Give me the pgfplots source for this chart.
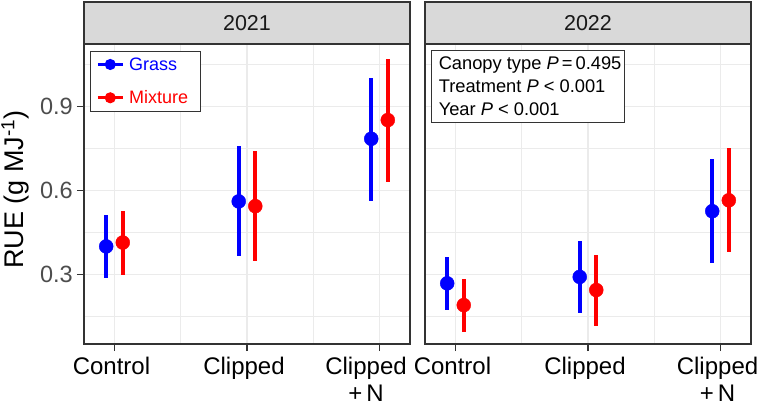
\documentclass[border=0pt]{standalone}
\usepackage{pgfplots}
\pgfplotsset{compat=1.18}
\usepackage{pgfplotstable}
\usepackage{fontspec}
\setmainfont{Liberation Sans}
\setsansfont{Liberation Sans}

\definecolor{gridc}{RGB}{235,235,235}
\definecolor{framec}{RGB}{51,51,51}
\definecolor{stripc}{RGB}{217,217,217}
\definecolor{ticktext}{RGB}{77,77,77}

% columns: x (treatment), y (mean), lo, hi (interval)
\pgfplotstableread{
x y lo hi
1 0.400 0.287 0.511
2 0.561 0.364 0.759
3 0.785 0.564 1.004
}\grassA
\pgfplotstableread{
x y lo hi
1 0.414 0.299 0.527
2 0.544 0.348 0.742
3 0.852 0.632 1.070
}\mixA
\pgfplotstableread{
x y lo hi
1 0.268 0.172 0.362
2 0.291 0.163 0.419
3 0.526 0.339 0.711
}\grassB
\pgfplotstableread{
x y lo hi
1 0.190 0.095 0.284
2 0.244 0.115 0.370
3 0.565 0.381 0.751
}\mixB

\pgfplotsset{
  panel/.style={
    scale only axis, width=326pt, height=300pt,
    xmin=0.77, xmax=3.23, ymin=0.051, ymax=1.124,
    clip=false,
    axis line style={draw=framec, line width=1.1pt},
    xtick={1,2,3},
    ytick={0.3,0.6,0.9},
    minor xtick={1.5,2.5}, minor ytick={0.15,0.45,0.75,1.05},
    grid=both,
    major grid style={draw=gridc, line width=1.7pt},
    minor grid style={draw=gridc, line width=0.8pt},
    tick align=outside,
    major tick length=7pt, minor tick length=0pt,
    major tick style={draw=framec, line width=1.1pt},
    minor tick style={draw=none},
    xtick pos=bottom, ytick pos=left,
    xticklabel style={font=\fontsize{24}{26.5}\selectfont, align=center, text=black, inner sep=0pt, yshift=-6pt, xshift=-3pt},
    yticklabel style={font=\fontsize{23.5}{27}\selectfont, text=ticktext, inner sep=2pt, xshift=-2pt, /pgf/number format/fixed, /pgf/number format/precision=1, /pgf/number format/fixed zerofill, /pgf/number format/assume math mode=true},
  },
  grassst/.style={only marks, mark=*, mark size=7pt, color=blue, mark options={draw=none, fill=blue},
    error bars/y dir=both, error bars/y explicit, error bars/error mark=none, error bars/error bar style={line width=4pt, blue}},
  mixst/.style={only marks, mark=*, mark size=7pt, color=red, mark options={draw=none, fill=red},
    error bars/y dir=both, error bars/y explicit, error bars/error mark=none, error bars/error bar style={line width=4pt, red}},
  lgd/.style={legend image code/.code={\draw[line width=2.7pt] (0pt,0pt) -- (25pt,0pt); \fill (12.5pt,0pt) circle (5pt);}},
}

\begin{document}
\begin{tikzpicture}
\useasboundingbox (0pt,0pt) rectangle (760pt,-407pt);

\begin{axis}[panel, at={(84pt,-344pt)}, anchor=south west,
  xticklabels={Control,Clipped,{\hspace*{-21pt}Clipped\\\hspace*{-21pt}+\,N}},
  ylabel={RUE (g MJ\textsuperscript{-1})},
  ylabel style={font=\fontsize{27}{30}\selectfont, text=black, at={(rel axis cs:-0.186,0.515)}, anchor=base},
  legend style={at={(rel axis cs:0.018,0.977)}, anchor=north west, draw=framec, line width=1.1pt, fill=white,
    font=\fontsize{18}{20}\selectfont, row sep=15pt, column sep=3pt, inner xsep=6pt, inner ysep=4pt, nodes={inner sep=2pt}},
  legend cell align=left,
]
\addplot[grassst, lgd] table[x expr=\thisrow{x}-0.0625, y=y, y error plus expr=\thisrow{hi}-\thisrow{y}, y error minus expr=\thisrow{y}-\thisrow{lo}] {\grassA};
\addlegendentry{\textcolor{blue}{Grass}}
\addplot[mixst, lgd] table[x expr=\thisrow{x}+0.0625, y=y, y error plus expr=\thisrow{hi}-\thisrow{y}, y error minus expr=\thisrow{y}-\thisrow{lo}] {\mixA};
\addlegendentry{\textcolor{red}{Mixture}\hspace*{4pt}}
\draw[fill=stripc, draw=framec, line width=1.1pt] (rel axis cs:0,1) rectangle (rel axis cs:1,1.14);
\node[font=\fontsize{21.5}{24}\selectfont, text=black!90] at (rel axis cs:0.5,1.07) {2021};
\end{axis}

\begin{axis}[panel, at={(425pt,-344pt)}, anchor=south west,
  xticklabels={Control,Clipped,Clipped\\+\,N},
  yticklabels={}, y tick style={draw=none},
]
\addplot[grassst] table[x expr=\thisrow{x}-0.0625, y=y, y error plus expr=\thisrow{hi}-\thisrow{y}, y error minus expr=\thisrow{y}-\thisrow{lo}] {\grassB};
\addplot[mixst] table[x expr=\thisrow{x}+0.0625, y=y, y error plus expr=\thisrow{hi}-\thisrow{y}, y error minus expr=\thisrow{y}-\thisrow{lo}] {\mixB};
\draw[fill=stripc, draw=framec, line width=1.1pt] (rel axis cs:0,1) rectangle (rel axis cs:1,1.14);
\node[font=\fontsize{21.5}{24}\selectfont, text=black!90] at (rel axis cs:0.5,1.07) {2022};
\node[draw=framec, line width=1.1pt, fill=white, align=left, anchor=north west, inner xsep=7.5pt, inner ysep=6.5pt,
  font=\fontsize{18.3}{23}\selectfont] at (rel axis cs:0.0175,0.98)
  {Canopy type \textit{P}\,=\,0.495\hspace*{-4.5pt}\\Treatment \textit{P} < 0.001\\Year \textit{P} < 0.001};
\end{axis}
\end{tikzpicture}
\end{document}
